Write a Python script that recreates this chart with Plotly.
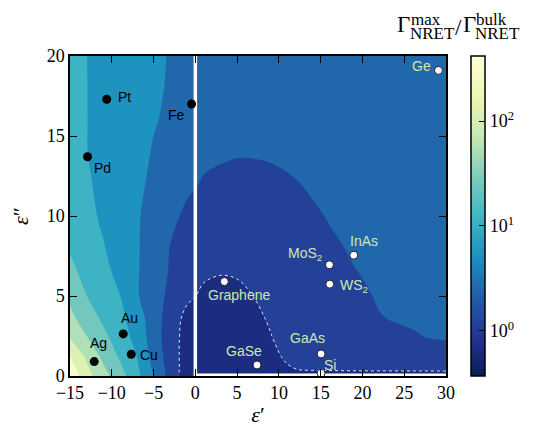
import plotly.graph_objects as go

# ---------------- data ----------------
eps_re = [-15, -13, -11, -9, -7, -5, -3, -1, 1, 3, 5, 7, 9, 11, 13, 16, 19, 22, 26, 30]
eps_im = [0, 0.4, 1.2, 2.4, 3.6, 5, 6.5, 8, 10, 12, 14, 16, 18, 20]

# log10(Gamma_max / Gamma_bulk), one row per eps_im value
log_ratio = [
    [2.60, 2.12, 1.78, 1.47, 1.10, 0.665, 0.21, -0.20, -0.35, -0.42, -0.43, -0.42, -0.40, -0.38, -0.35, -0.33, -0.30, -0.28, -0.26, -0.24],
    [2.50, 2.07, 1.72, 1.40, 1.06, 0.62, 0.20, -0.17, -0.30, -0.35, -0.36, -0.33, -0.25, -0.05, 0.03, 0.06, 0.07, 0.07, 0.07, 0.07],
    [2.35, 1.94, 1.59, 1.29, 1.005, 0.556, 0.173, -0.15, -0.28, -0.32, -0.32, -0.27, -0.12, 0.065, 0.14, 0.19, 0.22, 0.24, 0.25, 0.26],
    [1.98, 1.682, 1.414, 1.175, 0.887, 0.50, 0.146, -0.12, -0.24, -0.28, -0.27, -0.19, -0.02, 0.15, 0.22, 0.27, 0.29, 0.31, 0.325, 0.345],
    [1.753, 1.507, 1.275, 1.081, 0.838, 0.484, 0.189, -0.10, -0.18, -0.21, -0.19, -0.10, 0.05, 0.17, 0.23, 0.28, 0.31, 0.33, 0.345, 0.36],
    [1.60, 1.335, 1.167, 1.002, 0.697, 0.472, 0.262, 0.068, -0.06, -0.09, -0.06, 0.005, 0.12, 0.20, 0.25, 0.29, 0.315, 0.34, 0.36, 0.375],
    [1.404, 1.246, 1.088, 0.906, 0.698, 0.49, 0.309, 0.21, 0.05, 0.015, 0.025, 0.11, 0.18, 0.23, 0.27, 0.305, 0.33, 0.35, 0.37, 0.385],
    [1.31, 1.164, 1.018, 0.858, 0.698, 0.514, 0.325, 0.22, 0.13, 0.085, 0.09, 0.14, 0.20, 0.25, 0.28, 0.315, 0.345, 0.37, 0.39, 0.40],
    [1.22, 1.083, 0.95, 0.824, 0.699, 0.553, 0.402, 0.28, 0.22, 0.18, 0.175, 0.20, 0.24, 0.27, 0.305, 0.34, 0.365, 0.39, 0.41, 0.42],
    [1.16, 1.037, 0.928, 0.824, 0.721, 0.613, 0.498, 0.384, 0.31, 0.275, 0.265, 0.27, 0.29, 0.315, 0.337, 0.37, 0.40, 0.42, 0.44, 0.45],
    [1.10, 1.005, 0.916, 0.828, 0.74, 0.65, 0.561, 0.475, 0.39, 0.37, 0.35, 0.35, 0.355, 0.365, 0.38, 0.40, 0.42, 0.44, 0.46, 0.47],
    [1.08, 1.004, 0.924, 0.844, 0.764, 0.683, 0.627, 0.578, 0.528, 0.48, 0.44, 0.43, 0.43, 0.435, 0.44, 0.45, 0.46, 0.47, 0.48, 0.49],
    [1.07, 1.003, 0.929, 0.854, 0.779, 0.703, 0.645, 0.604, 0.563, 0.52, 0.48, 0.47, 0.47, 0.47, 0.475, 0.48, 0.49, 0.50, 0.51, 0.52],
    [1.06, 1.002, 0.931, 0.859, 0.786, 0.714, 0.652, 0.61, 0.57, 0.535, 0.50, 0.49, 0.49, 0.49, 0.495, 0.50, 0.51, 0.52, 0.53, 0.54],
]

metal_names = ["Pt", "Pd", "Fe", "Au", "Ag", "Cu"]
metal_re = [-10.6, -12.9, -0.45, -8.63, -12.1, -7.67]
metal_im = [17.3, 13.7, 17.0, 2.63, 0.9, 1.36]

other_names = ["Graphene", "GaSe", "MoS<sub>2</sub>", "WS<sub>2</sub>", "InAs", "GaAs", "Si", "Ge"]
other_re = [3.47, 7.38, 16.05, 16.09, 18.96, 15.05, 15.05, 29.1]
other_im = [5.9, 0.69, 6.95, 5.74, 7.55, 1.38, 0.17, 19.1]

cbar_min, cbar_max = -0.43, 2.62          # log10 range of colour bar
cbar_tickvals = [0, 1, 2]
cbar_ticktext = ["10<sup>0</sup>", "10<sup>1</sup>", "10<sup>2</sup>"]
level_start, level_size, n_levels = 0.0, 1.0 / 3.0, 8

# ---------------- style ----------------
metal_shift = {"Pt": (18, 2), "Pd": (15, -11), "Fe": (-15, -11), "Au": (6, 16),
               "Ag": (4, 19), "Cu": (18, -1)}
other_shift = {"Graphene": (15, -13), "GaSe": (-13, 14), "MoS<sub>2</sub>": (-24, 11),
               "WS<sub>2</sub>": (24, -2), "InAs": (10, 14.5), "GaAs": (-14, 16),
               "Si": (9, 8), "Ge": (-16.5, 4)}
label_green = "rgb(205,232,170)"
SERIF = "Liberation Serif"
SANS = "Liberation Sans"
band_pos = [0.6, 0.2, 0.2, 0.2, 0.2, 0.2, 0.2, 0.2, 0.5]   # where inside each band its colour is taken
PAGE_OFFSET = 8   # browser body margin around the figure

ylgnbu = [(0.0, (255, 255, 217)), (0.125, (237, 248, 177)), (0.25, (199, 233, 180)),
          (0.375, (127, 205, 187)), (0.5, (65, 182, 196)), (0.625, (29, 145, 192)),
          (0.75, (34, 94, 168)), (0.875, (37, 52, 148)), (1.0, (8, 29, 88))]


def ylgnbu_at(t):
    t = min(max(t, 0.0), 1.0)
    for (t0, c0), (t1, c1) in zip(ylgnbu[:-1], ylgnbu[1:]):
        if t <= t1:
            f = (t - t0) / (t1 - t0)
            return "rgb(%d,%d,%d)" % tuple(round(a + (b - a) * f) for a, b in zip(c0, c1))
    return "rgb(8,29,88)"


levels = [level_start + k * level_size for k in range(n_levels)]
bounds = [cbar_min] + levels + [cbar_max]
band_colors = []
for k, (lo, hi) in enumerate(zip(bounds[:-1], bounds[1:])):
    val = lo + band_pos[k] * (hi - lo)
    band_colors.append(ylgnbu_at(1 - (val - cbar_min) / (cbar_max - cbar_min)))
contour_scale = [[k / n_levels, c] for k, c in enumerate(band_colors)]
cont_scale = [[1 - t, "rgb(%d,%d,%d)" % c] for t, c in reversed(ylgnbu)]

fig = go.Figure()
fig.add_trace(go.Contour(
    x=eps_re, y=eps_im, z=log_ratio,
    autocontour=False,
    contours=dict(start=level_start, end=level_start + (n_levels - 1) * level_size,
                  size=level_size, coloring="fill"),
    colorscale=contour_scale, showscale=False,
    line=dict(width=0, smoothing=1.0), hoverinfo="skip"))
fig.add_trace(go.Contour(
    x=eps_re, y=eps_im, z=log_ratio,
    autocontour=False,
    contours=dict(start=0, end=0, size=1, coloring="none"),
    showscale=False,
    line=dict(width=1, color="rgba(255,255,255,0.85)", dash="3px,3px", smoothing=1.0),
    hoverinfo="skip"))

# colour bar (continuous)
fig.add_trace(go.Scatter(
    x=[0, 0], y=[-5, -5], mode="markers",
    marker=dict(size=0, color=[cbar_min, cbar_max], colorscale=cont_scale,
                cmin=cbar_min, cmax=cbar_max, showscale=True,
                colorbar=dict(thickness=14, len=1, lenmode="fraction",
                              x=(471 - 70) / 376, xanchor="left", y=0.5, yanchor="middle",
                              xpad=0, ypad=0, outlinewidth=1.5, outlinecolor="black",
                              tickvals=cbar_tickvals, ticktext=cbar_ticktext,
                              ticks="inside", ticklen=6, tickcolor="black",
                              tickfont=dict(family=SERIF, size=18, color="black"))),
    hoverinfo="skip", showlegend=False))

# white guide lines
fig.add_trace(go.Scatter(x=[0, 0], y=[0, 20], mode="lines",
                         line=dict(color="white", width=3.5), hoverinfo="skip"))
fig.add_trace(go.Scatter(x=[0, 30], y=[0.08, 0.08], mode="lines",
                         line=dict(color="white", width=2.5), hoverinfo="skip"))

fig.add_trace(go.Scatter(x=metal_re, y=metal_im, mode="markers",
                         marker=dict(size=9, color="black"), hoverinfo="skip"))
fig.add_trace(go.Scatter(x=other_re, y=other_im, mode="markers", cliponaxis=False,
                         marker=dict(size=8, color="white", line=dict(color="#1a1a2e", width=1)),
                         hoverinfo="skip"))

annotations = []
for n, xr, yi in zip(metal_names, metal_re, metal_im):
    dx, dy = metal_shift[n]
    annotations.append(dict(x=xr, y=yi, text=n, showarrow=False, xshift=dx, yshift=dy,
                            font=dict(family=SANS, size=14, color="black")))
for n, xr, yi in zip(other_names, other_re, other_im):
    dx, dy = other_shift[n]
    annotations.append(dict(x=xr, y=yi, text=n, showarrow=False, xshift=dx, yshift=dy,
                            font=dict(family=SANS, size=14, color=label_green)))


def px(xp):
    return (xp - 70) / 376


def py(yp):
    return (376 - yp) / 320


title_parts = [("Γ", 396, 25, 23), ("max", 410, 20, 17), ("NRET", 409, 33.5, 17),
               ("/", 454, 27, 23), ("Γ", 462, 25, 23), ("bulk", 475, 20, 17),
               ("NRET", 474, 33.5, 17)]
for t, xl, yc, fs in title_parts:
    annotations.append(dict(xref="paper", yref="paper", x=px(xl), y=py(yc), text=t,
                            xanchor="left", yanchor="middle", showarrow=False,
                            borderpad=0, font=dict(family=SERIF, size=fs, color="black")))

axis_common = dict(showgrid=False, zeroline=False, showline=True, linecolor="black",
                   linewidth=1.5, mirror="ticks", ticks="inside", ticklen=7,
                   tickwidth=1.2, tickcolor="black",
                   tickfont=dict(family=SERIF, size=18, color="black"))
fig.update_layout(
    width=545 - PAGE_OFFSET, height=429 - PAGE_OFFSET,
    margin=dict(l=70 - PAGE_OFFSET, r=99, t=56 - PAGE_OFFSET, b=53, autoexpand=False),
    paper_bgcolor="white", plot_bgcolor="white", showlegend=False,
    xaxis=dict(range=[-15, 30], tickvals=list(range(-15, 31, 5)), automargin=False,
               title=dict(text="<i>ε</i>′", font=dict(family=SERIF, size=22, color="black"),
                          standoff=4), **axis_common),
    yaxis=dict(range=[0, 20], tickvals=list(range(0, 21, 5)), automargin=True,
               title=dict(text="<i>ε</i>″", font=dict(family=SERIF, size=22, color="black"),
                          standoff=20), **axis_common),
    annotations=annotations)

fig.write_html("out.html")
